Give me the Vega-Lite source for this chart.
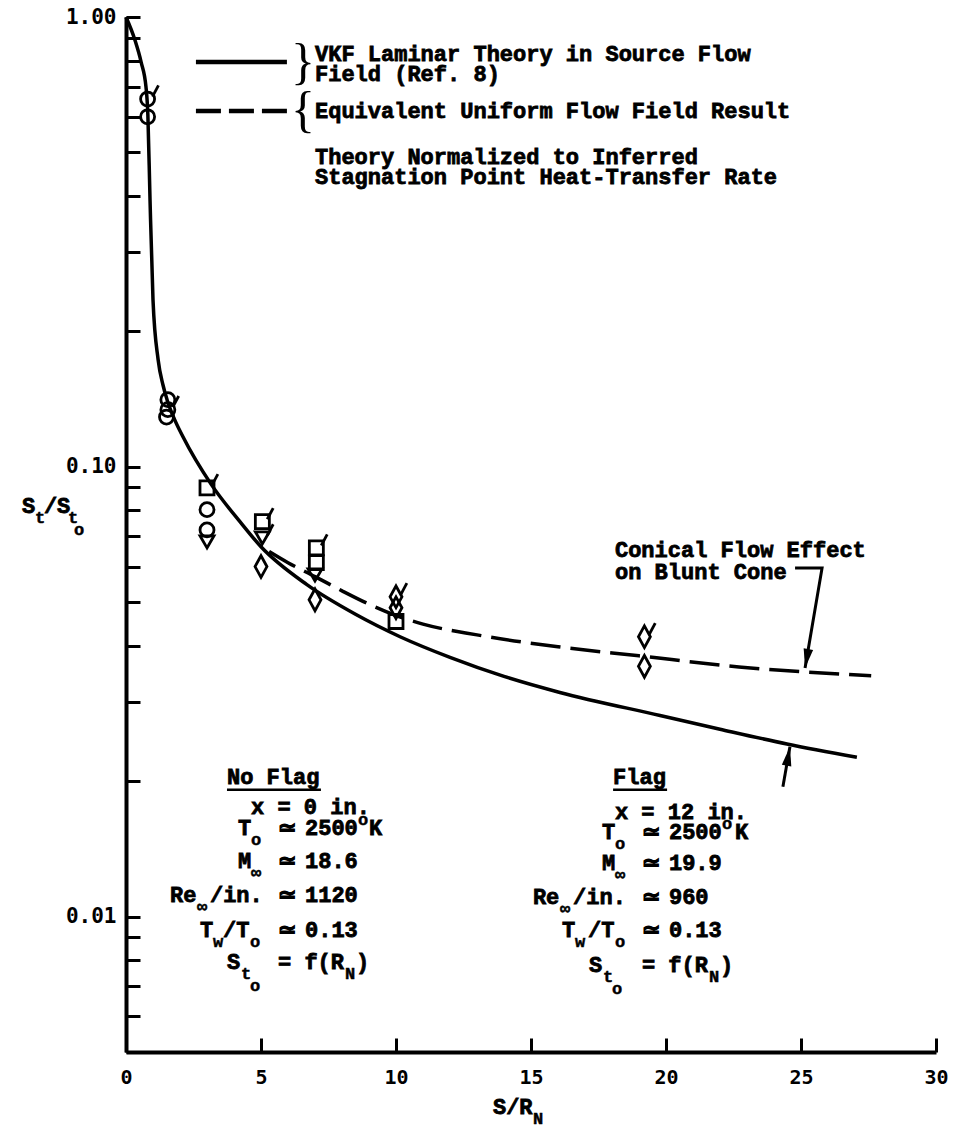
{
  "$schema": "https://vega.github.io/schema/vega-lite/v6.json",
  "width": 810,
  "height": 1035,
  "autosize": {"type": "none"},
  "padding": {"left": 126, "top": 17, "right": 18, "bottom": 79},
  "background": "white",
  "config": {"view": {"stroke": null}},
  "datasets": {
    "theory": [
      {"s": 0, "st": 1.0}, {"s": 0.33, "st": 0.889}, {"s": 0.56, "st": 0.794}, {"s": 0.74, "st": 0.699},
      {"s": 0.81, "st": 0.606}, {"s": 0.89, "st": 0.392}, {"s": 1.0, "st": 0.235}, {"s": 1.19, "st": 0.173},
      {"s": 1.37, "st": 0.152}, {"s": 1.52, "st": 0.141}, {"s": 1.81, "st": 0.127}, {"s": 2.11, "st": 0.1166},
      {"s": 3.15, "st": 0.0915}, {"s": 4.22, "st": 0.0755}, {"s": 5.0, "st": 0.0664}, {"s": 6.7, "st": 0.0547},
      {"s": 8.5, "st": 0.047}, {"s": 10.15, "st": 0.0419}, {"s": 12.0, "st": 0.0377}, {"s": 14.0, "st": 0.0342},
      {"s": 16.07, "st": 0.0315}, {"s": 19.78, "st": 0.028}, {"s": 22.0, "st": 0.0261}, {"s": 24.48, "st": 0.0242},
      {"s": 27.07, "st": 0.0226}
    ],
    "uniform": [
      {"s": 5.3, "st": 0.0648}, {"s": 6, "st": 0.0612}, {"s": 7, "st": 0.057}, {"s": 8, "st": 0.053},
      {"s": 9, "st": 0.0495}, {"s": 10, "st": 0.0467}, {"s": 11, "st": 0.0447}, {"s": 13, "st": 0.0423},
      {"s": 16, "st": 0.0398}, {"s": 19, "st": 0.038}, {"s": 22.7, "st": 0.0359}, {"s": 27.6, "st": 0.0343}
    ],
    "measured": [
      {"s": 0.8, "st": 0.657, "model": "A", "flag": true},
      {"s": 0.8, "st": 0.6, "model": "A", "flag": false},
      {"s": 1.55, "st": 0.141, "model": "A", "flag": false},
      {"s": 1.55, "st": 0.134, "model": "A", "flag": true},
      {"s": 1.5, "st": 0.129, "model": "A", "flag": false},
      {"s": 3.0, "st": 0.0898, "model": "B", "flag": true},
      {"s": 3.0, "st": 0.0803, "model": "A", "flag": false},
      {"s": 3.0, "st": 0.0724, "model": "A", "flag": false},
      {"s": 3.0, "st": 0.0681, "model": "D", "flag": false},
      {"s": 5.05, "st": 0.0755, "model": "B", "flag": true},
      {"s": 5.05, "st": 0.0695, "model": "D", "flag": true},
      {"s": 5.0, "st": 0.06, "model": "C", "flag": false},
      {"s": 7.05, "st": 0.066, "model": "B", "flag": true},
      {"s": 7.05, "st": 0.0612, "model": "B", "flag": false},
      {"s": 7.0, "st": 0.0575, "model": "D", "flag": false},
      {"s": 7.0, "st": 0.0506, "model": "C", "flag": false},
      {"s": 10.0, "st": 0.0514, "model": "C", "flag": true},
      {"s": 10.0, "st": 0.0486, "model": "C", "flag": false},
      {"s": 10.0, "st": 0.0453, "model": "B", "flag": false},
      {"s": 19.2, "st": 0.0419, "model": "C", "flag": true},
      {"s": 19.2, "st": 0.036, "model": "C", "flag": false}
    ],
    "keySolid": [{"s": 2.59, "st": 0.794}, {"s": 5.96, "st": 0.794}],
    "keyDashed": [{"s": 2.59, "st": 0.618}, {"s": 5.96, "st": 0.618}],
    "braces": [{"s": 6.56, "st": 0.79, "text": "}"}, {"s": 6.56, "st": 0.618, "text": "{"}],
    "notes": [
      {"s": 7.0, "st": 0.826, "text": "VKF Laminar Theory in Source Flow"},
      {"s": 7.0, "st": 0.748, "text": "Field (Ref. 8)"},
      {"s": 7.0, "st": 0.6182, "text": "Equivalent Uniform Flow Field Result"},
      {"s": 7.0, "st": 0.4886, "text": "Theory Normalized to Inferred"},
      {"s": 7.0, "st": 0.441, "text": "Stagnation Point Heat-Transfer Rate"},
      {"s": 18.11, "st": 0.06541, "text": "Conical Flow Effect"},
      {"s": 18.11, "st": 0.05843, "text": "on Blunt Cone"},
      {"s": 3.74, "st": 0.02047, "text": "No Flag"},
      {"s": 4.63, "st": 0.01756, "text": "x = 0 in."},
      {"s": 4.15, "st": 0.01577, "text": "T"},
      {"s": 5.63, "st": 0.01577, "text": "≃"},
      {"s": 6.63, "st": 0.01577, "text": "2500"},
      {"s": 9.0, "st": 0.01577, "text": "K"},
      {"s": 4.15, "st": 0.01326, "text": "M"},
      {"s": 5.63, "st": 0.01326, "text": "≃"},
      {"s": 6.63, "st": 0.01326, "text": "18.6"},
      {"s": 1.63, "st": 0.01119, "text": "Re"},
      {"s": 3.11, "st": 0.01119, "text": "/in."},
      {"s": 5.63, "st": 0.01119, "text": "≃"},
      {"s": 6.63, "st": 0.01119, "text": "1120"},
      {"s": 2.74, "st": 0.009357, "text": "T"},
      {"s": 3.59, "st": 0.009357, "text": "/T"},
      {"s": 5.63, "st": 0.009357, "text": "≃"},
      {"s": 6.63, "st": 0.009357, "text": "0.13"},
      {"s": 3.74, "st": 0.007943, "text": "S"},
      {"s": 5.63, "st": 0.007943, "text": "= f(R"},
      {"s": 8.52, "st": 0.007943, "text": ")"},
      {"s": 18.04, "st": 0.02047, "text": "Flag"},
      {"s": 18.11, "st": 0.01711, "text": "x = 12 in."},
      {"s": 17.63, "st": 0.01545, "text": "T"},
      {"s": 19.11, "st": 0.01545, "text": "≃"},
      {"s": 20.11, "st": 0.01545, "text": "2500"},
      {"s": 22.56, "st": 0.01545, "text": "K"},
      {"s": 17.63, "st": 0.01318, "text": "M"},
      {"s": 19.11, "st": 0.01318, "text": "≃"},
      {"s": 20.11, "st": 0.01318, "text": "19.9"},
      {"s": 15.07, "st": 0.01108, "text": "Re"},
      {"s": 16.56, "st": 0.01108, "text": "/in."},
      {"s": 19.11, "st": 0.01108, "text": "≃"},
      {"s": 20.11, "st": 0.01108, "text": "960"},
      {"s": 16.15, "st": 0.009357, "text": "T"},
      {"s": 17.11, "st": 0.009357, "text": "/T"},
      {"s": 19.11, "st": 0.009357, "text": "≃"},
      {"s": 20.11, "st": 0.009357, "text": "0.13"},
      {"s": 17.15, "st": 0.007822, "text": "S"},
      {"s": 19.11, "st": 0.007822, "text": "= f(R"},
      {"s": 22.0, "st": 0.007822, "text": ")"},
      {"s": -3.85, "st": 0.0819, "text": "S"},
      {"s": -3.04, "st": 0.0819, "text": "/S"},
      {"s": 13.59, "st": 0.003764, "text": "S/R"}
    ],
    "subs": [
      {"s": 4.63, "st": 0.01577, "text": "o"},
      {"s": 4.63, "st": 0.01326, "text": "∞"},
      {"s": 2.63, "st": 0.01119, "text": "∞"},
      {"s": 3.22, "st": 0.009357, "text": "w"},
      {"s": 4.59, "st": 0.009357, "text": "o"},
      {"s": 4.26, "st": 0.007943, "text": "t"},
      {"s": 8.11, "st": 0.007943, "text": "N"},
      {"s": 18.11, "st": 0.01545, "text": "o"},
      {"s": 18.11, "st": 0.01318, "text": "∞"},
      {"s": 16.07, "st": 0.01108, "text": "∞"},
      {"s": 16.63, "st": 0.009357, "text": "w"},
      {"s": 18.11, "st": 0.009357, "text": "o"},
      {"s": 17.67, "st": 0.007822, "text": "t"},
      {"s": 21.59, "st": 0.007822, "text": "N"},
      {"s": -3.37, "st": 0.0819, "text": "t"},
      {"s": -2.15, "st": 0.0819, "text": "t"},
      {"s": 15.07, "st": 0.003764, "text": "N"}
    ],
    "subsubs": [
      {"s": 4.59, "st": 0.007943, "text": "o"},
      {"s": 18.0, "st": 0.007822, "text": "o"},
      {"s": -1.93, "st": 0.0819, "text": "o"}
    ],
    "sups": [
      {"s": 8.59, "st": 0.01577, "text": "o"},
      {"s": 22.07, "st": 0.01545, "text": "o"}
    ],
    "underlines": [
      {"s": 3.74, "s2": 7.22, "st": 0.01915},
      {"s": 18.04, "s2": 20.04, "st": 0.01915}
    ],
    "leaders": [
      {"s": 24.78, "st": 0.0596, "arrow": "cone", "step": 1},
      {"s": 25.78, "st": 0.0596, "arrow": "cone", "step": 2},
      {"s": 25.15, "st": 0.0357, "arrow": "cone", "step": 3},
      {"s": 24.33, "st": 0.01945, "arrow": "source", "step": 1},
      {"s": 24.59, "st": 0.02387, "arrow": "source", "step": 2}
    ],
    "heads": [
      {"s": 25.15, "st": 0.0357, "dir": "down"},
      {"s": 24.59, "st": 0.02387, "dir": "up"}
    ]
  },
  "encoding": {
    "x": {
      "field": "s",
      "type": "quantitative",
      "scale": {"domain": [0, 30], "nice": false, "zero": false},
      "axis": {
        "title": null,
        "values": [0, 5, 10, 15, 20, 25, 30],
        "grid": false,
        "tickSize": -14,
        "tickWidth": 3,
        "tickColor": "black",
        "domainWidth": 4,
        "domainColor": "black",
        "labelPadding": 29,
        "labelFont": "DejaVu Sans Mono",
        "labelFontWeight": "bold",
        "labelFontSize": 20,
        "labelColor": "black",
        "labelFlush": false,
        "labelOverlap": false,
        "labelBound": false
      }
    },
    "y": {
      "field": "st",
      "type": "quantitative",
      "scale": {"type": "log", "domain": [0.005, 1], "nice": false},
      "axis": {
        "title": null,
        "values": [0.005, 0.006, 0.007, 0.008, 0.009, 0.01, 0.02, 0.03, 0.04, 0.05, 0.06, 0.07, 0.08, 0.09, 0.1, 0.2, 0.3, 0.4, 0.5, 0.6, 0.7, 0.8, 0.9, 1],
        "labelExpr": "datum.value == 1 || datum.value == 0.1 || datum.value == 0.01 ? format(datum.value, '.2f') : ''",
        "grid": false,
        "tickSize": -14,
        "tickWidth": 3,
        "tickColor": "black",
        "domainWidth": 4,
        "domainColor": "black",
        "labelPadding": 24,
        "labelFont": "DejaVu Sans Mono",
        "labelFontWeight": "bold",
        "labelFontSize": 21,
        "labelColor": "black",
        "labelFlush": false,
        "labelOverlap": false,
        "labelBound": false
      }
    }
  },
  "layer": [
    {
      "data": {"name": "theory"},
      "mark": {"type": "line", "interpolate": "monotone", "color": "black", "strokeWidth": 3.5}
    },
    {
      "data": {"name": "uniform"},
      "mark": {"type": "line", "interpolate": "monotone", "color": "black", "strokeWidth": 3.5, "strokeDash": [30, 10]}
    },
    {
      "data": {"name": "keySolid"},
      "mark": {"type": "line", "color": "black", "strokeWidth": 4.5}
    },
    {
      "data": {"name": "keyDashed"},
      "mark": {"type": "line", "color": "black", "strokeWidth": 4.5, "strokeDash": [25, 8]}
    },
    {
      "data": {"name": "measured"},
      "mark": {"type": "point", "filled": false, "stroke": "black", "strokeWidth": 2.8, "size": 196, "opacity": 1},
      "encoding": {
        "shape": {
          "field": "model",
          "type": "nominal",
          "scale": {"domain": ["A", "B", "C", "D"], "range": ["circle", "square", "M0,-1.55L0.85,0L0,1.55L-0.85,0Z", "triangle-down"]},
          "legend": null
        }
      }
    },
    {
      "data": {"name": "measured"},
      "transform": [{"filter": "datum.flag"}],
      "mark": {"type": "point", "filled": false, "stroke": "black", "strokeWidth": 2.8, "size": 196, "opacity": 1, "shape": "M0.7,-0.35L1.55,-1.95"}
    },
    {
      "data": {"name": "leaders"},
      "mark": {"type": "line", "color": "black", "strokeWidth": 3},
      "encoding": {
        "detail": {"field": "arrow", "type": "nominal"},
        "order": {"field": "step", "type": "quantitative"}
      }
    },
    {
      "data": {"name": "heads"},
      "transform": [{"filter": "datum.dir == 'down'"}],
      "mark": {"type": "point", "filled": true, "color": "black", "size": 144, "opacity": 1, "angle": 10, "shape": "M0,0L-0.8,-3.2L0.8,-3.2Z"}
    },
    {
      "data": {"name": "heads"},
      "transform": [{"filter": "datum.dir == 'up'"}],
      "mark": {"type": "point", "filled": true, "color": "black", "size": 144, "opacity": 1, "angle": 10, "shape": "M0,0L-0.8,3.2L0.8,3.2Z"}
    },
    {
      "data": {"name": "underlines"},
      "mark": {"type": "rule", "color": "black", "strokeWidth": 2.5},
      "encoding": {"x2": {"field": "s2"}}
    },
    {
      "data": {"name": "braces"},
      "mark": {"type": "text", "font": "Liberation Serif", "fontSize": 50, "align": "center", "baseline": "middle", "color": "black"},
      "encoding": {"text": {"field": "text"}}
    },
    {
      "data": {"name": "notes"},
      "mark": {"type": "text", "font": "Liberation Mono", "fontWeight": "bold", "fontSize": 22, "align": "left", "baseline": "middle", "color": "black", "stroke": "black", "strokeWidth": 0.8},
      "encoding": {"text": {"field": "text"}}
    },
    {
      "data": {"name": "subs"},
      "mark": {"type": "text", "font": "Liberation Mono", "fontWeight": "bold", "fontSize": 17, "align": "left", "baseline": "middle", "dy": 12, "color": "black", "stroke": "black", "strokeWidth": 0.5},
      "encoding": {"text": {"field": "text"}}
    },
    {
      "data": {"name": "subsubs"},
      "mark": {"type": "text", "font": "Liberation Mono", "fontWeight": "bold", "fontSize": 17, "align": "left", "baseline": "middle", "dy": 24, "color": "black", "stroke": "black", "strokeWidth": 0.5},
      "encoding": {"text": {"field": "text"}}
    },
    {
      "data": {"name": "sups"},
      "mark": {"type": "text", "font": "Liberation Mono", "fontWeight": "bold", "fontSize": 17, "align": "left", "baseline": "middle", "dy": -8, "color": "black", "stroke": "black", "strokeWidth": 0.5},
      "encoding": {"text": {"field": "text"}}
    }
  ]
}
